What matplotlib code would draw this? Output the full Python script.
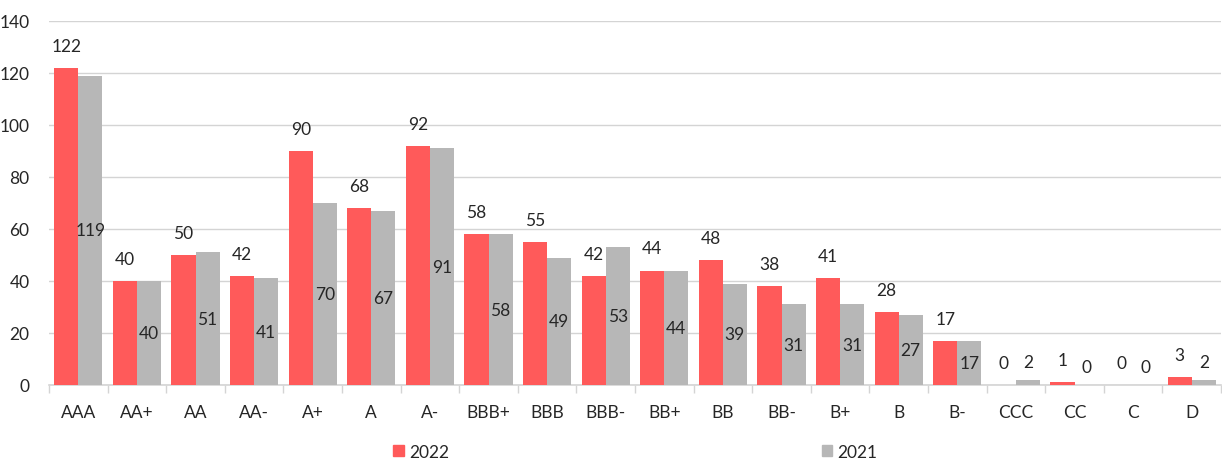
import matplotlib.pyplot as plt
from matplotlib.patches import Patch
import numpy as np

plt.rcParams["font.family"] = ["Lato", "DejaVu Sans"]

RED = "#ff5a5a"
GRAY = "#b7b7b7"
INK = "#262626"
GRID = "#d4d4d4"

ratings = ["AAA", "AA+", "AA", "AA-", "A+", "A", "A-", "BBB+", "BBB", "BBB-",
           "BB+", "BB", "BB-", "B+", "B", "B-", "CCC", "CC", "C", "D"]
vals_2022 = [122, 40, 50, 42, 90, 68, 92, 58, 55, 42, 44, 48, 38, 41, 28, 17, 0, 1, 0, 3]
vals_2021 = [119, 40, 51, 41, 70, 67, 91, 58, 49, 53, 44, 39, 31, 31, 27, 17, 2, 0, 0, 2]

fig = plt.figure(figsize=(12.22, 4.6), dpi=100)
ax = fig.add_axes([0.0401, 0.1609, 0.9591, 0.7913])

x = np.arange(len(ratings))
w = 0.41
ax.bar(x - w / 2, vals_2022, w, color=RED, zorder=3)
ax.bar(x + w / 2, vals_2021, w, color=GRAY, zorder=3)

for xi, v in zip(x, vals_2022):
    ax.text(xi - w / 2, v + 8.5, str(v), ha="center", va="center", fontsize=12.5, color=INK)
for xi, v in zip(x, vals_2021):
    y = v / 2 if v >= 10 else v + 7
    ax.text(xi + w / 2, y, str(v), ha="center", va="center", fontsize=12.5, color=INK, zorder=4)

ax.set_xlim(-0.5, len(ratings) - 0.5)
ax.set_ylim(0, 140)
ax.set_yticks(range(0, 141, 20))
ax.yaxis.grid(True, color=GRID, linewidth=1, zorder=0)
ax.set_xticks(x)
ax.set_xticklabels(ratings)
ax.set_xticks(np.arange(-0.5, len(ratings), 1), minor=True)
ax.tick_params(axis="x", which="major", length=0, pad=14, labelsize=12.5, colors=INK)
ax.tick_params(axis="x", which="minor", length=6, color=GRID, width=1)
ax.tick_params(axis="y", length=0, pad=14, labelsize=12.5, colors=INK)
for s in ["top", "right", "left"]:
    ax.spines[s].set_visible(False)
ax.spines["bottom"].set_color(GRID)
ax.spines["bottom"].set_linewidth(1.2)

handles = [Patch(color=RED, label="2022"), Patch(color=GRAY, label="2021")]
fig.legend(handles=handles, loc="center", bbox_to_anchor=(0.52, 0.016), ncol=2, frameon=False,
           fontsize=12.5, handlelength=0.6, handleheight=0.6, handletextpad=0.3, columnspacing=21.5,
           labelcolor=INK)

fig.savefig("out.png", dpi=100)
